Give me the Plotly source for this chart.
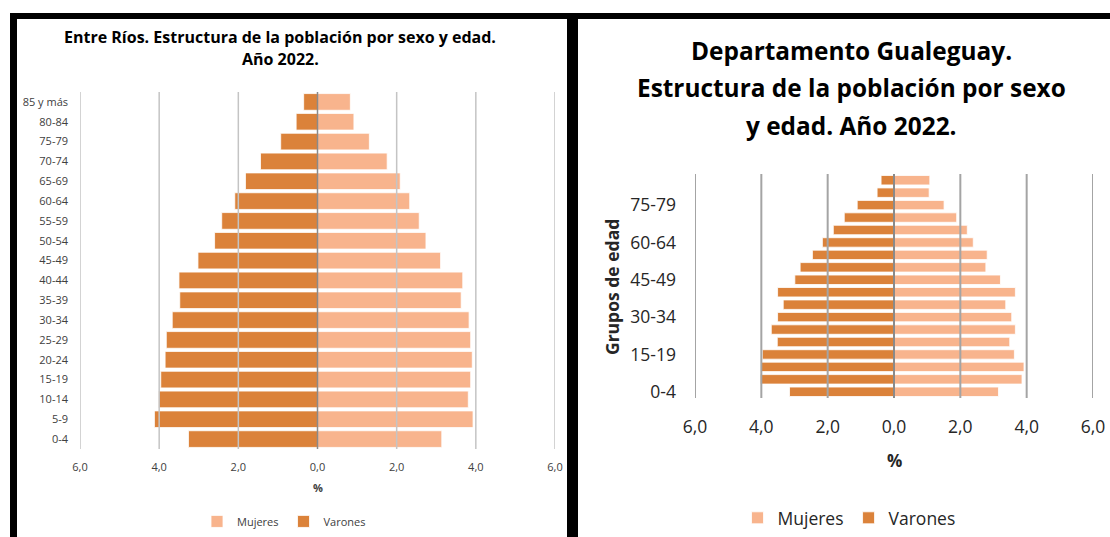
import plotly.graph_objects as go

# Age groups (bottom to top) and population share (%) by sex
groups = ["0-4", "5-9", "10-14", "15-19", "20-24", "25-29", "30-34", "35-39",
          "40-44", "45-49", "50-54", "55-59", "60-64", "65-69", "70-74",
          "75-79", "80-84", "85 y más"]

er_varones = [3.26, 4.12, 4.01, 3.96, 3.85, 3.82, 3.67, 3.48, 3.50, 3.02,
              2.60, 2.42, 2.09, 1.82, 1.44, 0.93, 0.54, 0.35]
er_mujeres = [3.14, 3.93, 3.81, 3.87, 3.91, 3.87, 3.83, 3.63, 3.67, 3.11,
              2.74, 2.57, 2.33, 2.09, 1.76, 1.31, 0.92, 0.83]

gu_varones = [3.15, 4.03, 4.01, 3.97, 3.52, 3.70, 3.51, 3.34, 3.51, 2.99,
              2.83, 2.46, 2.16, 1.83, 1.50, 1.11, 0.51, 0.39]
gu_mujeres = [3.15, 3.86, 3.92, 3.63, 3.49, 3.66, 3.55, 3.37, 3.66, 3.21,
              2.77, 2.81, 2.39, 2.21, 1.89, 1.51, 1.06, 1.08]

x_ticks = [-6, -4, -2, 0, 2, 4, 6]
x_tick_text = ["6,0", "4,0", "2,0", "0,0", "2,0", "4,0", "6,0"]
gu_y_ticks = groups[::3]

C_VAR = "#DB823A"
C_MUJ = "#F8B48D"
FONT = "Open Sans"

W, H = 1110, 537


def px_x(a, b):
    return [a / W, b / W]


def px_y(top, bottom):
    return [1 - bottom / H, 1 - top / H]


fig = go.Figure()

# Entre Ríos pyramid
fig.add_trace(go.Bar(y=groups, x=er_mujeres, orientation="h", name="Mujeres",
                     marker=dict(color=C_MUJ, line=dict(color="white", width=0.8)),
                     xaxis="x", yaxis="y", legend="legend"))
fig.add_trace(go.Bar(y=groups, x=[-v for v in er_varones], orientation="h", name="Varones",
                     marker=dict(color=C_VAR, line=dict(color="white", width=0.8)),
                     xaxis="x", yaxis="y", legend="legend"))

# Gualeguay pyramid
fig.add_trace(go.Bar(y=groups, x=gu_mujeres, orientation="h", name="Mujeres", width=0.76,
                     marker=dict(color=C_MUJ, line=dict(color="white", width=0.8)),
                     xaxis="x2", yaxis="y2", legend="legend2"))
fig.add_trace(go.Bar(y=groups, x=[-v for v in gu_varones], orientation="h", name="Varones",
                     width=0.76,
                     marker=dict(color=C_VAR, line=dict(color="white", width=0.8)),
                     xaxis="x2", yaxis="y2", legend="legend2"))

fig.update_layout(
    width=W, height=H,
    margin=dict(l=0, r=0, t=0, b=0),
    paper_bgcolor="white", plot_bgcolor="white",
    barmode="relative",
    font=dict(family=FONT, color="#404040"),
    showlegend=True,
    xaxis=dict(domain=px_x(80, 555), range=[-6, 6], tickvals=x_ticks, ticktext=x_tick_text,
               showgrid=False, zeroline=False, showline=False, ticks="",
               tickfont=dict(size=11, color="#404040"), ticklabelstandoff=10,
               anchor="y", fixedrange=True, automargin=False),
    yaxis=dict(domain=px_y(92, 449), type="category", categoryorder="array",
               categoryarray=groups, range=[-0.5, 17.5], showgrid=False,
               showline=False, ticks="", tickfont=dict(size=11, color="#404040"),
               ticklabelstandoff=11, anchor="x", fixedrange=True, automargin=False),
    xaxis2=dict(domain=px_x(695, 1093), range=[-6, 6], tickvals=x_ticks, ticktext=x_tick_text,
                showgrid=False, zeroline=False, showline=False, ticks="",
                tickfont=dict(size=17.5, color="#262626"), ticklabelstandoff=16,
                anchor="y2", fixedrange=True, automargin=False),
    yaxis2=dict(domain=px_y(174, 398), type="category", categoryorder="array",
                categoryarray=groups, range=[-0.5, 17.5], tickvals=gu_y_ticks,
                showgrid=False, showline=False, ticks="",
                tickfont=dict(size=17.5, color="#262626"), ticklabelstandoff=18,
                anchor="x2", fixedrange=True, automargin=False),
    # Legends sit fully inside the page so they never push the margins
    legend=dict(orientation="h", x=284 / W, xanchor="center", y=0.002, yanchor="bottom",
                font=dict(size=11, color="#404040"), itemwidth=30, bgcolor="rgba(0,0,0,0)"),
    legend2=dict(orientation="h", x=849 / W, xanchor="center", y=0.002, yanchor="bottom",
                 font=dict(size=17.5, color="#262626"), itemwidth=30, bgcolor="rgba(0,0,0,0)"),
    bargap=0.16,
)

shapes = []
# Vertical gridlines drawn over the bars
for xa, ya, grid_c, zero_c, lw in (("x", "y", "#C4C4C4", "#8A8A8A", 1.5),
                                     ("x2", "y2", "#A4A4A4", "#8A8A8A", 2)):
    for v in x_ticks:
        shapes.append(dict(type="line", xref=xa, yref=ya + " domain", x0=v, x1=v, y0=0, y1=1,
                           line=dict(color=zero_c if v == 0 else grid_c, width=lw),
                           layer="above"))

# Black panel frames
for x0, x1, y0, y1 in ((10, 1110, 13, 19), (10, 17, 13, 537), (567, 578, 13, 537)):
    shapes.append(dict(type="rect", xref="paper", yref="paper",
                       x0=x0 / W, x1=x1 / W, y0=1 - y1 / H, y1=1 - y0 / H,
                       fillcolor="black", line=dict(width=0), layer="above"))
fig.update_layout(shapes=shapes)

annotations = []


def add_text(text, x, y, size, bold=True, color="black", angle=0):
    annotations.append(dict(text=f"<b>{text}</b>" if bold else text, xref="paper", yref="paper",
                            x=x / W, y=1 - y / H, xanchor="center", yanchor="middle",
                            showarrow=False, textangle=angle,
                            font=dict(family=FONT, size=size, color=color)))


# Titles
add_text("Entre Ríos. Estructura de la población por sexo y edad.", 280, 37, 16)
add_text("Año 2022.", 280, 59, 16)
add_text("Departamento Gualeguay.", 851, 50, 24.4)
add_text("Estructura de la población por sexo", 851, 87, 24.4)
add_text("y edad. Año 2022.", 851, 125, 24.4)

# Axis titles
add_text("%", 318, 487, 11, color="#404040")
add_text("%", 894, 460, 17, color="#262626")
add_text("Grupos de edad", 612, 287, 17.5, color="#262626", angle=-90)

fig.update_layout(annotations=annotations)

# Page without body margin so the figure fills the window exactly
fig.write_html(
    "out.html",
    post_script="document.body.style.margin='0';document.body.style.overflow='hidden';",
)
